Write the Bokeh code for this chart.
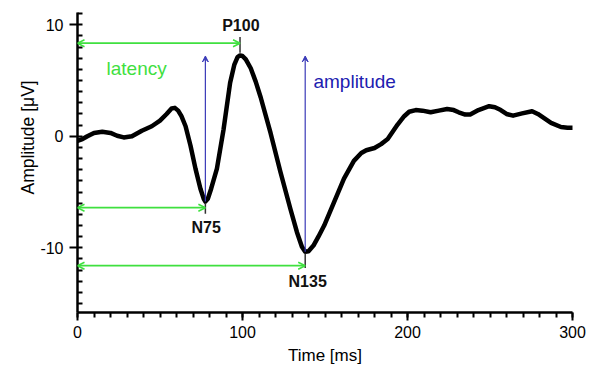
from bokeh.plotting import figure
from bokeh.models import (Range1d, SingleIntervalTicker, Arrow, OpenHead, VeeHead,
                          ColumnDataSource, PrintfTickFormatter, Title)
from bokeh.core.properties import value
from bokeh.embed import file_html
from bokeh.resources import INLINE

# ---- data ----
time_ms = [0, 3, 6, 10, 15, 20, 24, 28, 33, 39, 45, 50, 54, 57, 59, 61, 63, 65.5,
           68.5, 71.5, 74.5, 76.5, 77.5, 79, 81, 84.5, 88.5, 92.5, 95, 97, 98.5, 100,
           102, 105, 108, 111, 117, 123, 129, 133, 136, 138, 140, 143, 146, 149.5,
           155.5, 161.5, 167.5, 172, 175, 180, 184, 188, 194, 198, 201, 205, 209,
           214, 219, 224, 228, 231, 235, 238, 243, 249.5, 253, 256.5, 260, 264,
           269.5, 275.5, 279, 281, 287, 293, 297, 300]
amplitude_uv = [-0.4, -0.25, 0.0, 0.3, 0.4, 0.3, 0.05, -0.1, 0.0, 0.5, 0.9, 1.4, 2.0,
                2.5, 2.55, 2.3, 1.8, 0.9, -0.85, -2.9, -4.7, -5.6, -5.85, -5.6, -4.7,
                -2.9, 0.6, 4.8, 6.4, 7.1, 7.25, 7.2, 6.9, 6.1, 4.9, 3.5, 0.3, -3.2,
                -6.5, -8.6, -9.9, -10.35, -10.3, -9.8, -9.0, -8.0, -5.9, -3.8, -2.2,
                -1.5, -1.25, -1.05, -0.7, -0.25, 1.05, 1.8, 2.2, 2.35, 2.3, 2.15, 2.3,
                2.45, 2.35, 2.15, 1.95, 1.95, 2.35, 2.7, 2.6, 2.35, 2.0, 1.85, 2.05,
                2.25, 2.0, 1.8, 1.2, 0.83, 0.77, 0.77]

peak_names = ["N75", "P100", "N135"]
peak_times = [77.5, 98.5, 138.0]
peak_amps = [-5.85, 7.25, -10.35]
latency_levels = [-6.4, 8.35, -11.6]
marker_top = [-6.0, 8.9, -10.5]
marker_bottom = [-6.95, 7.5, -11.8]
label_times = [78.0, 99.0, 139.5]
label_levels = [-8.2, 9.9, -13.0]

amp_arrow_times = [77.5, 138.0]
amp_arrow_from = [-5.85, -10.35]
amp_arrow_to = [7.2, 7.2]

x_ticks_interval = 100
y_ticks_interval = 10
x_title = "Time [ms]"
y_title = "Amplitude [μV]"

GREEN = "#3fe03f"
BLUE_TXT = "#2020b0"
BLUE_LINE = "#3a3ab8"
FONT = "Liberation Sans"

p = figure(width=594, height=367, output_backend="svg", toolbar_location=None,
           x_range=Range1d(0, 300), y_range=Range1d(-15.8, 11.1),
           min_border_left=77, min_border_right=22, min_border_top=12,
           min_border_bottom=52)
p.outline_line_color = None
p.xgrid.visible = False
p.ygrid.visible = False
p.background_fill_color = "white"

# axes
p.xaxis.ticker = SingleIntervalTicker(interval=x_ticks_interval, num_minor_ticks=10)
p.yaxis.ticker = SingleIntervalTicker(interval=y_ticks_interval, num_minor_ticks=10)
p.xaxis.formatter = PrintfTickFormatter(format="%d")
p.yaxis.formatter = PrintfTickFormatter(format="%d")
for ax in (p.xaxis[0], p.yaxis[0]):
    ax.axis_line_width = 2.5
    ax.axis_line_color = "black"
    ax.major_tick_line_width = 2
    ax.minor_tick_line_width = 2
    ax.major_tick_line_color = "black"
    ax.minor_tick_line_color = "black"
    ax.major_label_text_font = FONT
    ax.major_label_text_font_size = "16px"
    ax.major_label_text_color = "black"
    ax.axis_label_text_font = FONT
    ax.axis_label_text_font_size = "17px"
    ax.axis_label_text_font_style = "normal"
    ax.axis_label_text_color = "black"

p.xaxis.major_tick_in = 0
p.xaxis.major_tick_out = 8
p.xaxis.minor_tick_in = 0
p.xaxis.minor_tick_out = 5
p.xaxis.major_label_standoff = 5
p.xaxis.axis_label_standoff = 5
p.xaxis.axis_label = x_title

p.yaxis.major_tick_in = 0
p.yaxis.major_tick_out = 8
p.yaxis.minor_tick_in = 5
p.yaxis.minor_tick_out = 0
p.yaxis.major_label_standoff = 6

# y title placed like the reference (not centred on the frame)
p.add_layout(Title(text=y_title, align="left", offset=118, standoff=0,
                   text_font=FONT, text_font_size="17.5px",
                   text_font_style="normal", text_color="black"), "left")

# waveform
p.line(time_ms, amplitude_uv, line_color="black", line_width=4.5,
       line_join="round", line_cap="round")

# latency arrows (green, double-headed)
lat_src = ColumnDataSource(dict(x0=[0] * len(peak_times), x1=peak_times,
                                y=latency_levels))
p.add_layout(Arrow(x_start="x0", y_start="y", x_end="x1", y_end="y", source=lat_src,
                   line_color=GREEN, line_width=1.6,
                   start=OpenHead(size=7, line_color=GREEN, line_width=1.6),
                   end=OpenHead(size=7, line_color=GREEN, line_width=1.6)))

# amplitude arrows (blue)
amp_src = ColumnDataSource(dict(x=amp_arrow_times, y0=amp_arrow_from, y1=amp_arrow_to))
p.add_layout(Arrow(x_start="x", y_start="y0", x_end="x", y_end="y1", source=amp_src,
                   line_color=BLUE_LINE, line_width=1.2,
                   end=VeeHead(size=6, fill_color=BLUE_LINE, line_color=BLUE_LINE,
                               line_width=1)))

# peak markers
p.segment(x0=peak_times, y0=marker_top, x1=peak_times, y1=marker_bottom,
          line_color="#333333", line_width=1.5)

# peak labels
p.text(x=label_times, y=label_levels, text=peak_names, text_align="center",
       text_baseline="middle", text_font=value(FONT), text_font_style="bold",
       text_font_size="16px", text_color="#111111")

# descriptive texts
p.text(x=[17.6], y=[6.1], text=["latency"], text_align="left",
       text_baseline="alphabetic", text_font=value(FONT), text_font_size="19px",
       text_color=GREEN)
p.text(x=[143.0], y=[4.9], text=["amplitude"], text_align="left",
       text_baseline="alphabetic", text_font=value(FONT), text_font_size="19px",
       text_color=BLUE_TXT)

open("out.html", "w").write(file_html(p, INLINE))
